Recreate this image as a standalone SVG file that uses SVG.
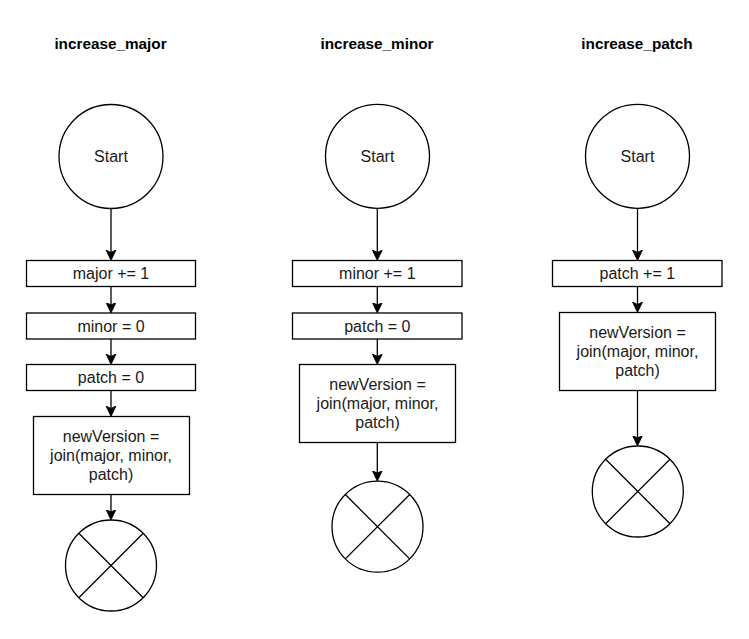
<svg xmlns="http://www.w3.org/2000/svg" width="749" height="639" viewBox="0 0 749 639">
<defs>
<style>
.n{fill:#fff;stroke:#000;stroke-width:1.3}
.x{stroke:#000;stroke-width:1.3;fill:none}
.t{font-family:"Liberation Sans",Arial,sans-serif;font-size:16px;fill:#1a1a1a;text-anchor:middle}
.h{font-family:"Liberation Sans",Arial,sans-serif;font-size:15.3px;font-weight:bold;fill:#000;text-anchor:middle}
.c{stroke:#000;stroke-width:1.3;fill:none;marker-end:url(#arr)}
</style>
<marker id="arr" markerUnits="userSpaceOnUse" markerWidth="12" markerHeight="12" refX="7.5" refY="5.5" orient="auto">
<path d="M0,0.5 L10.5,5.5 L0,10.5 L2.4,5.5 Z" fill="#000" stroke="#000" stroke-width="0.8"/>
</marker>
</defs>
<rect width="749" height="639" fill="#fff"/>

<g id="titles">
<text class="h" x="110.5" y="48.5">increase_major</text>
<text class="h" x="377" y="48.5">increase_minor</text>
<text class="h" x="637" y="48.5">increase_patch</text>
</g>

<g id="connectors">
<path class="c" d="M111,208.5 L111,257.5"/>
<path class="c" d="M111,286.5 L111,310"/>
<path class="c" d="M111,339 L111,361.5"/>
<path class="c" d="M111,390.5 L111,413.5"/>
<path class="c" d="M111,494.5 L111,517"/>
<path class="c" d="M377.3,208.3 L377.3,257.5"/>
<path class="c" d="M377.3,286.5 L377.3,310"/>
<path class="c" d="M377.3,339 L377.3,361.5"/>
<path class="c" d="M377.3,442.5 L377.3,478.2"/>
<path class="c" d="M637.5,208.3 L637.5,257.5"/>
<path class="c" d="M637.5,286.5 L637.5,309.5"/>
<path class="c" d="M637.5,390.5 L637.5,443"/>
</g>

<!-- Column 1 -->
<g id="start1"><circle class="n" cx="111" cy="156.5" r="52"/><text class="t" x="111" y="162">Start</text></g>
<g id="major1"><rect class="n" x="26.5" y="260.5" width="169" height="26"/><text class="t" x="111" y="279">major += 1</text></g>
<g id="minor1"><rect class="n" x="26.5" y="313" width="169" height="26"/><text class="t" x="111" y="331.5">minor = 0</text></g>
<g id="patch1"><rect class="n" x="26.5" y="364.5" width="169" height="26"/><text class="t" x="111" y="383">patch = 0</text></g>
<g id="join1"><rect class="n" x="33.5" y="416.5" width="156" height="78"/>
<text class="t" x="111" y="442">newVersion =</text><text class="t" x="111" y="461">join(major, minor,</text><text class="t" x="111" y="480">patch)</text></g>
<g id="end1"><circle class="n" cx="111" cy="565.5" r="45.5"/><path class="x" d="M78.8,533.3 L143.2,597.7 M143.2,533.3 L78.8,597.7"/></g>

<!-- Column 2 -->
<g id="start2"><circle class="n" cx="377.5" cy="156.3" r="52"/><text class="t" x="377.5" y="161.8">Start</text></g>
<g id="minor2"><rect class="n" x="292.5" y="260.5" width="169.5" height="26"/><text class="t" x="377.3" y="279">minor += 1</text></g>
<g id="patch2"><rect class="n" x="292.5" y="313" width="169.5" height="26"/><text class="t" x="377.3" y="331.5">patch = 0</text></g>
<g id="join2"><rect class="n" x="299.5" y="364.5" width="156" height="78"/>
<text class="t" x="377.5" y="390">newVersion =</text><text class="t" x="377.5" y="409">join(major, minor,</text><text class="t" x="377.5" y="428">patch)</text></g>
<g id="end2"><circle class="n" cx="377.5" cy="526.7" r="45.5"/><path class="x" d="M345.3,494.5 L409.7,558.9 M409.7,494.5 L345.3,558.9"/></g>

<!-- Column 3 -->
<g id="start3"><circle class="n" cx="637.5" cy="156.3" r="52"/><text class="t" x="637.5" y="161.8">Start</text></g>
<g id="patch3"><rect class="n" x="552.5" y="260.5" width="169.5" height="26"/><text class="t" x="637.3" y="279">patch += 1</text></g>
<g id="join3"><rect class="n" x="559.5" y="312.5" width="156" height="78"/>
<text class="t" x="637.5" y="338">newVersion =</text><text class="t" x="637.5" y="357">join(major, minor,</text><text class="t" x="637.5" y="376">patch)</text></g>
<g id="end3"><circle class="n" cx="637.8" cy="491.5" r="45.5"/><path class="x" d="M605.6,459.3 L670,523.7 M670,459.3 L605.6,523.7"/></g>
</svg>
